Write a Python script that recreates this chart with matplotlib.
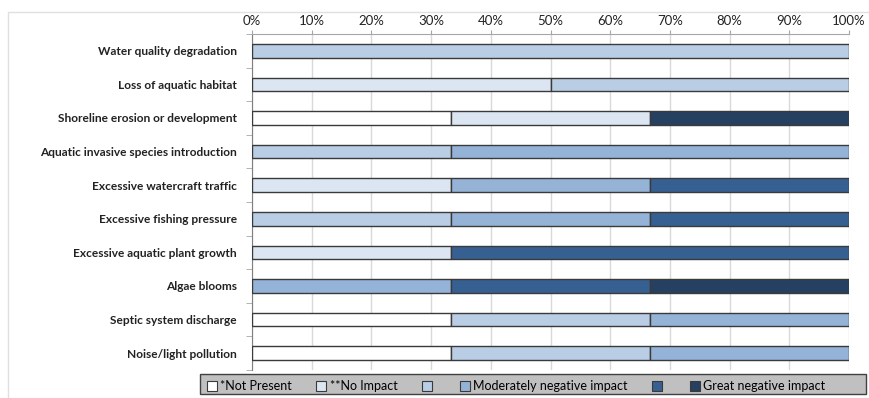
import numpy as np
import matplotlib
matplotlib.use("Agg")
import matplotlib.pyplot as plt
from matplotlib.patches import Patch, Rectangle

plt.rcParams["font.family"] = ["Lato", "DejaVu Sans"]

# -------------------------------
# DATA (percent of responses)
# -------------------------------
categories = [
    "Water quality degradation",
    "Loss of aquatic habitat",
    "Shoreline erosion or development",
    "Aquatic invasive species introduction",
    "Excessive watercraft traffic",
    "Excessive fishing pressure",
    "Excessive aquatic plant growth",
    "Algae blooms",
    "Septic system discharge",
    "Noise/light pollution",
]
not_present = [0, 0, 33.33, 0, 0, 0, 0, 0, 33.33, 33.33]
no_impact = [0, 50, 33.33, 0, 33.33, 0, 33.33, 0, 0, 0]
slight_neg = [100, 50, 0, 33.33, 0, 33.33, 0, 0, 33.33, 33.33]
moderate_neg = [0, 0, 0, 66.67, 33.33, 33.33, 0, 33.33, 33.33, 33.33]
strong_neg = [0, 0, 0, 0, 33.33, 33.33, 66.67, 33.33, 0, 0]
great_neg = [0, 0, 33.33, 0, 0, 0, 0, 33.33, 0, 0]

series = [not_present, no_impact, slight_neg, moderate_neg, strong_neg, great_neg]
labels = ["*Not Present", "**No Impact", "", "Moderately negative impact", "", "Great negative impact"]
colors = ["#FFFFFF", "#DCE6F2", "#B9CDE5", "#95B3D7", "#376092", "#254061"]
edge = "#3A3A3A"

# -------------------------------
# PLOT
# -------------------------------
fig = plt.figure(figsize=(8.69, 3.98), dpi=100)
ax = fig.add_axes([252 / 869, 1 - 370 / 398, 597 / 869, 336 / 398])

y = np.arange(len(categories))
left = np.zeros(len(categories))
for vals, col in zip(series, colors):
    vals = np.array(vals, dtype=float)
    lw = np.where(vals > 0, 1.0, 0.0)
    ax.barh(y, vals, left=left, height=0.4, color=col, edgecolor=edge, linewidth=lw, zorder=3)
    left += vals

ax.set_xlim(0, 100)
ax.set_ylim(len(categories) - 0.5, -0.5)
ax.set_xticks(np.arange(0, 101, 10))
ax.set_xticklabels([f"{v}%" for v in range(0, 101, 10)])
ax.xaxis.tick_top()
ax.tick_params(axis="x", length=3, color="#A6A6A6", labelsize=9.5, labelcolor="#222222", pad=2)
ax.grid(axis="x", color="#D9D9D9", linewidth=1, zorder=0)

ax.set_yticks(y)
ax.set_yticklabels(categories, fontweight="bold", fontsize=8.6, color="#222222")
ax.set_yticks(np.arange(-0.5, len(categories), 1), minor=True)
ax.tick_params(axis="y", which="major", length=0, pad=11)
ax.tick_params(axis="y", which="minor", length=4, color="#A6A6A6")

for s in ["right", "bottom"]:
    ax.spines[s].set_visible(False)
ax.spines["top"].set_color("#A6A6A6")
ax.spines["left"].set_color("#7F7F7F")

# -------------------------------
# LEGEND
# -------------------------------
handles = [Patch(facecolor=c, edgecolor=edge, linewidth=0.8) for c in colors]
leg = fig.legend(handles, labels, loc="lower left", ncol=6, mode="expand",
                 bbox_to_anchor=(205 / 869, 4 / 398, 622 / 869, 20 / 398),
                 fontsize=9, frameon=False, borderpad=0.15,
                 handlelength=0.8, handleheight=0.8, handletextpad=0.25,
                 borderaxespad=0)

# legend box (grey band behind the entries)
fig.patches.append(Rectangle((200 / 869, 4 / 398), 666 / 869, 20 / 398, transform=fig.transFigure,
                             facecolor="#C0C0C0", edgecolor="#404040", linewidth=1.0, zorder=0))

# faint chart border
fig.patches.append(Rectangle((8 / 869, -0.1), 1.2, 1.08 - 4 / 398, transform=fig.transFigure,
                             fill=False, edgecolor="#E0E0E0", linewidth=1))

fig.savefig("out.png", dpi=100)
